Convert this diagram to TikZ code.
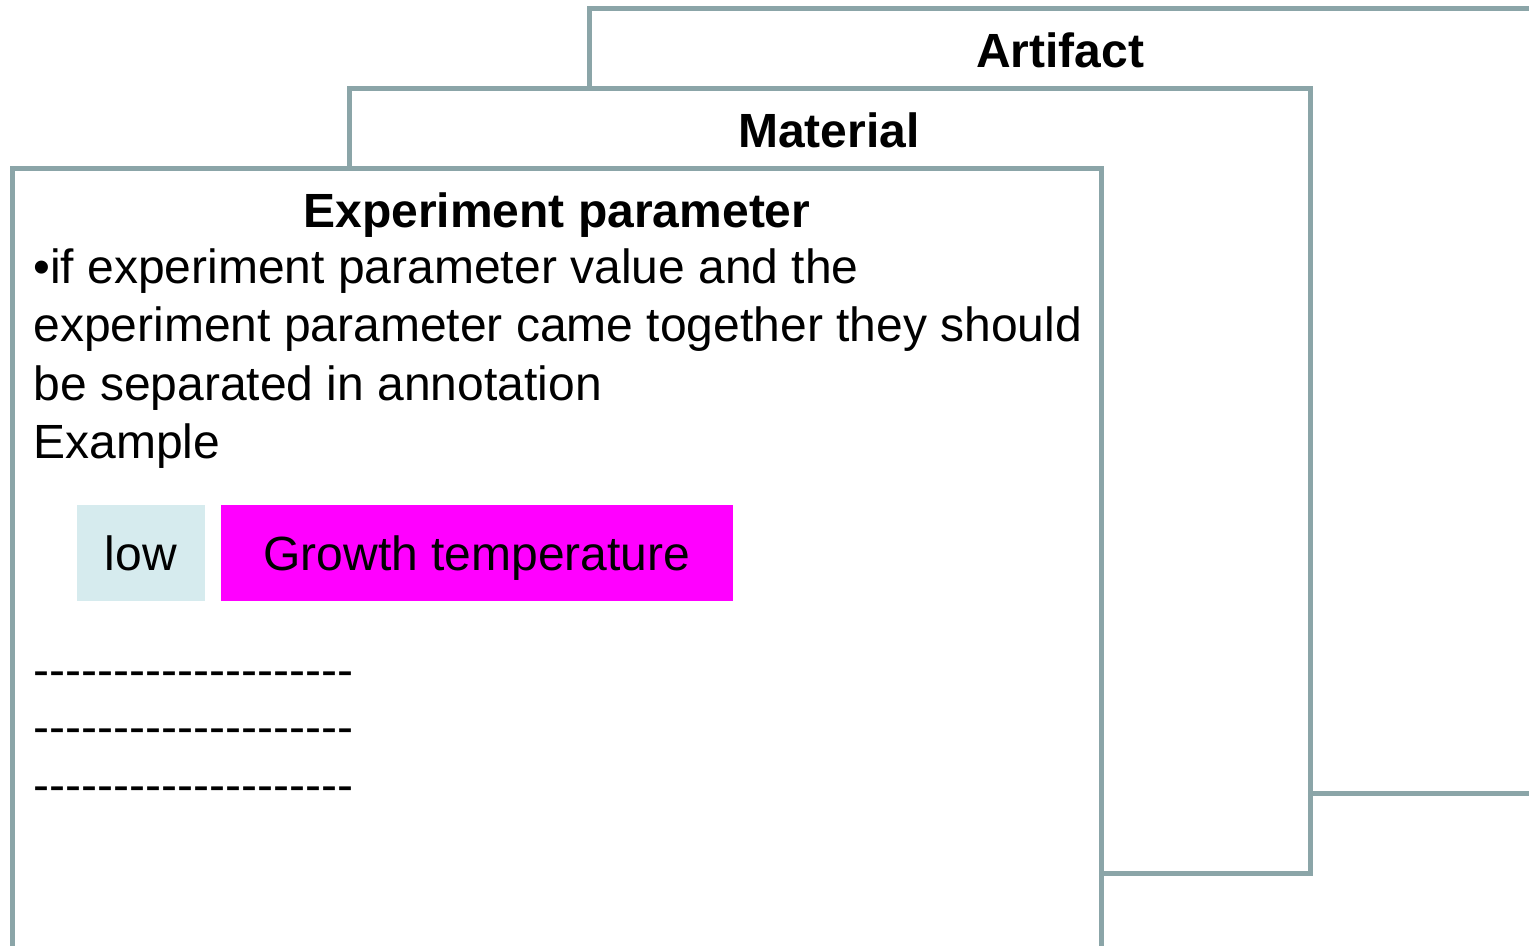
\documentclass[tikz,border=0pt]{standalone}
\usepackage{fontspec}
\newfontfamily\arial{Liberation Sans}
\definecolor{panelline}{RGB}{139,165,168}
\definecolor{lowfill}{RGB}{214,235,238}
\definecolor{tagfill}{RGB}{255,0,255}
\tikzset{
  panel/.style={draw=panelline, line width=2.5pt, fill=white},
  title/.style={font=\arial\fontsize{24}{29}\selectfont\bfseries, anchor=base, inner sep=0pt},
  body/.style={font=\arial\fontsize{24}{29}\selectfont, anchor=base west, inner sep=0pt},
  tag/.style={font=\arial\fontsize{24}{29}\selectfont, inner sep=0pt, text height=17.2pt, text depth=0pt, minimum height=48pt}
}
\begin{document}
\begin{tikzpicture}[x=0.5pt,y=-0.5pt]
\useasboundingbox (0,0) rectangle (1529,946);
\clip (0,0) rectangle (1529,946);
\fill[white] (0,0) rectangle (1529,946);
% panels
\draw[panel] (589,9) rectangle (1620,793);
\draw[panel] (349,89) rectangle (1310,873);
\draw[panel] (12,169) rectangle (1101,1020);
% titles
\node[title] (tart) at (1060,68) {Artifact};
\node[title] (tmat) at (829,148) {Material};
\node[title] (texp) at (557,228) {Experiment parameter};
% body
\node[body] (l1) at (33,284) {•if experiment parameter value and the};
\node[body] (l2) at (33,342) {experiment parameter came together they should};
\node[body] (l3) at (33,400) {be separated in annotation};
\node[body] (l4) at (33,458) {Example};
% tags
\node[tag, fill=lowfill, minimum width=64pt] (low) at (141,553) {low};
\node[tag, fill=tagfill, minimum width=256pt] (growth) at (477,553) {Growth temperature};
% dashed text lines
\node[body] (d1) at (33,686) {-{}-{}-{}-{}-{}-{}-{}-{}-{}-{}-{}-{}-{}-{}-{}-{}-{}-{}-{}-};
\node[body] (d2) at (33,743) {-{}-{}-{}-{}-{}-{}-{}-{}-{}-{}-{}-{}-{}-{}-{}-{}-{}-{}-{}-};
\node[body] (d3) at (33,801) {-{}-{}-{}-{}-{}-{}-{}-{}-{}-{}-{}-{}-{}-{}-{}-{}-{}-{}-{}-};
\end{tikzpicture}
\end{document}
